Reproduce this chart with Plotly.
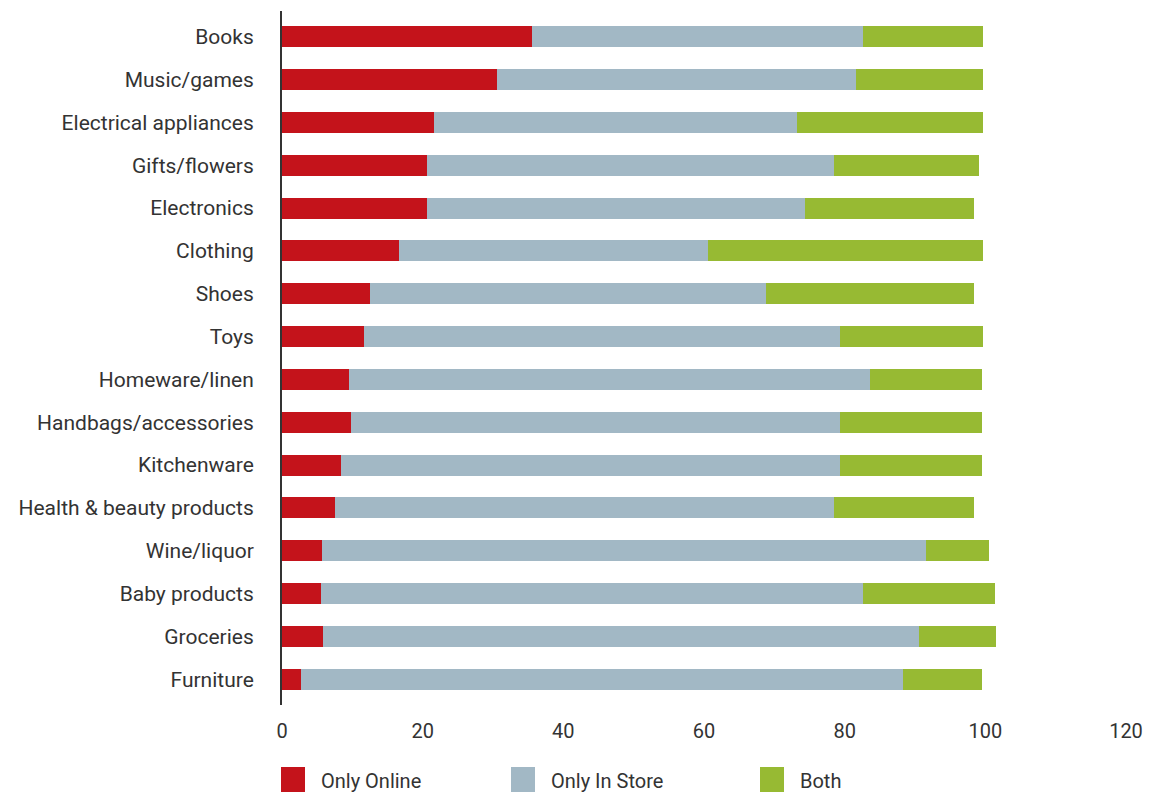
import plotly.graph_objects as go

categories = ["Books", "Music/games", "Electrical appliances", "Gifts/flowers", "Electronics",
              "Clothing", "Shoes", "Toys", "Homeware/linen", "Handbags/accessories",
              "Kitchenware", "Health & beauty products", "Wine/liquor", "Baby products",
              "Groceries", "Furniture"]
only_online = [35.5, 30.6, 21.6, 20.6, 20.6, 16.6, 12.5, 11.7, 9.5, 9.8, 8.4, 7.5, 5.7, 5.5, 5.8, 2.7]
only_in_store = [47.1, 51.0, 51.6, 57.9, 53.8, 44.0, 56.3, 67.6, 74.1, 69.5, 70.9, 71.0, 85.9, 77.1, 84.8, 85.6]
both = [17.1, 18.1, 26.5, 20.6, 24.0, 39.1, 29.6, 20.4, 15.9, 20.2, 20.2, 19.9, 8.9, 18.8, 10.9, 11.2]
series_names = ["Only Online", "Only In Store", "Both"]
colors = ["#C4131B", "#A2B8C5", "#97BA33"]
x_ticks = [0, 20, 40, 60, 80, 100, 120]

FONT = "Roboto"
TXT = "#333333"
PW, PH = 844, 694  # plot area size in px

fig = go.Figure()
for name, vals, col in zip(series_names, [only_online, only_in_store, both], colors):
    fig.add_trace(go.Bar(y=categories, x=vals, name=name, orientation="h",
                         marker=dict(color=col, line=dict(width=0)), showlegend=False))

fig.update_layout(
    width=1143, height=785,
    margin=dict(l=274, r=25, t=3, b=88),
    barmode="stack", bargap=0.51,
    plot_bgcolor="white", paper_bgcolor="white",
    font=dict(family=FONT, size=20, color=TXT),
)
fig.update_xaxes(range=[0, 120], tickvals=x_ticks, showgrid=False, zeroline=False,
                 showline=False, ticks="", ticklabelstandoff=12,
                 tickfont=dict(family=FONT, size=20, color=TXT))
fig.update_yaxes(categoryorder="array", categoryarray=categories, range=[15.6, -0.6],
                 showgrid=False, zeroline=False, showline=True, linecolor="#333333",
                 linewidth=2, ticks="", ticklabelstandoff=22,
                 tickfont=dict(family=FONT, size=21, color=TXT))

# custom legend (large square swatches) below the plot
legend_px = [-1, 229, 478]
for name, col, lx in zip(series_names, colors, legend_px):
    fig.add_shape(type="rect", xref="paper", yref="paper",
                  x0=lx / PW, x1=(lx + 24) / PW, y0=-62 / PH, y1=-87 / PH,
                  fillcolor=col, line=dict(width=0))
    fig.add_annotation(xref="paper", yref="paper", x=(lx + 38) / PW, y=-76 / PH,
                       text=name, showarrow=False, xanchor="left", yanchor="middle",
                       font=dict(family=FONT, size=20, color=TXT))

fig.write_html("out.html")
